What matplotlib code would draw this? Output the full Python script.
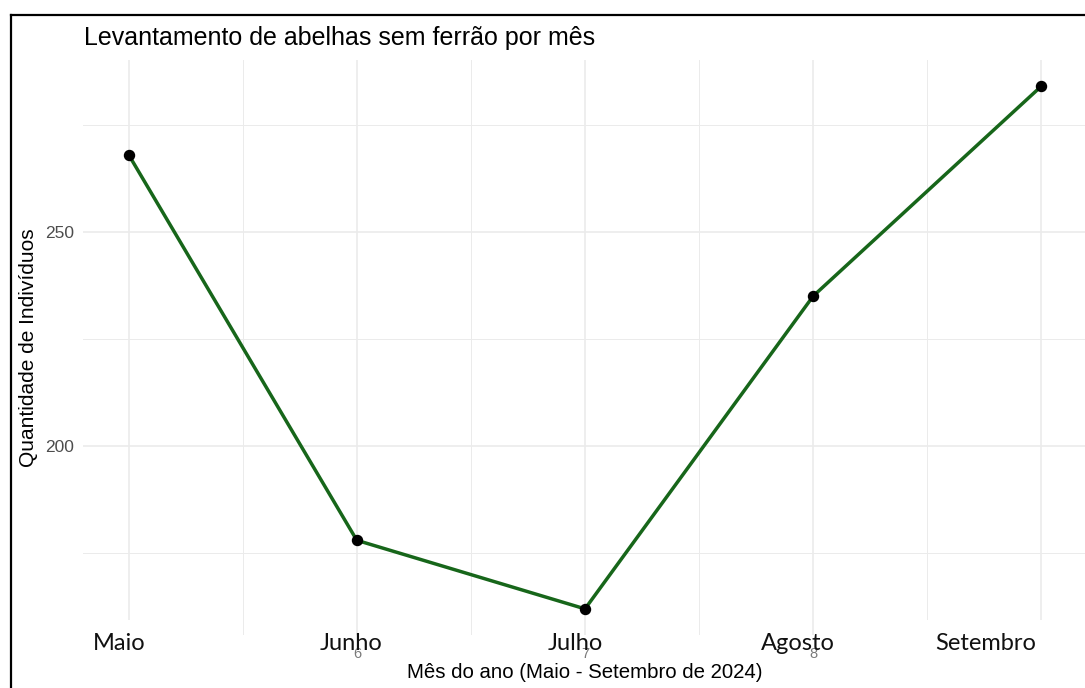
import numpy as np
import matplotlib.pyplot as plt
from matplotlib.lines import Line2D
import matplotlib.transforms as mtransforms

# data
meses = [5, 6, 7, 8, 9]
nomes_meses = ["Maio", "Junho", "Julho", "Agosto", "Setembro"]
individuos = [268, 178, 162, 235, 284]

# layout helpers (label nudges in data units, which labels get a white box)
nudge = [-0.042, -0.026, -0.044, -0.066, -0.246]
caixa = [True, False, False, False, True]

W, H = 1085, 688
fig = plt.figure(figsize=(W / 100, H / 100), dpi=100)
fig.patch.set_facecolor("white")

ax = fig.add_axes([83 / W, 1 - 635 / H, (1087 - 83) / W, (635 - 60) / H])
ax.set_facecolor("white")

grid_c = "#EBEBEB"
ax.set_xticks(meses)
ax.set_xticks([5.5, 6.5, 7.5, 8.5], minor=True)
ax.set_yticks([200, 250])
ax.set_yticks([175, 225, 275], minor=True)
ax.grid(which="major", color=grid_c, lw=1.2, zorder=0)
ax.grid(which="minor", color=grid_c, lw=0.7, zorder=0)
ax.set_axisbelow(True)
for s in ax.spines.values():
    s.set_visible(False)

ax.plot(meses, individuos, color="#17661A", lw=2.5, zorder=2, clip_on=False)
ax.scatter(meses, individuos, color="black", s=52, zorder=3, clip_on=False)

rng = max(individuos) - min(individuos)
ax.set_ylim(min(individuos) - 0.05 * rng, max(individuos) + 0.05 * rng)
ax.set_xlim(4.8, 9.2)

ax.tick_params(which="both", length=0)
ax.tick_params(axis="y", labelsize=12.5, labelcolor="#4D4D4D", pad=6.5)
ax.tick_params(axis="x", labelsize=10.5, labelcolor="#7A7A7A", pad=9)
for t in ax.get_xticklabels() + ax.get_yticklabels():
    t.set_fontfamily("Liberation Sans")

ax.set_ylabel("Quantidade de Indivíduos", fontsize=15, family="Liberation Sans")
ax.set_xlabel("Mês do ano (Maio - Setembro de 2024)", fontsize=14.7,
              family="Liberation Sans", labelpad=1)
ax.yaxis.set_label_coords(-45 / (1087 - 83), 0.5)

# month names drawn over the numeric ticks
trans = mtransforms.blended_transform_factory(ax.transData, ax.transAxes)
y_lab = 1 - (643 - 60) / (635 - 60)
for m, nome, dx, cx in zip(meses, nomes_meses, nudge, caixa):
    kw = {}
    if cx:
        kw["bbox"] = dict(facecolor="white", edgecolor="none", pad=9)
    ax.text(m + dx, y_lab, nome, transform=trans, ha="center", va="center",
            fontsize=17, family="Lato", color="#111111", clip_on=False,
            zorder=5, **kw)

fig.text(84 / W, 1 - 45 / H, "Levantamento de abelhas sem ferrão por mês",
         fontsize=18, family="Liberation Sans", ha="left", va="baseline")

# screenshot border
fig.add_artist(Line2D([10.5 / W, 10.5 / W], [0, 1 - 14.5 / H], color="black",
                      lw=1.6, transform=fig.transFigure))
fig.add_artist(Line2D([10.5 / W, 1], [1 - 14.5 / H, 1 - 14.5 / H], color="black",
                      lw=1.6, transform=fig.transFigure))

fig.savefig("out.png", dpi=100)
